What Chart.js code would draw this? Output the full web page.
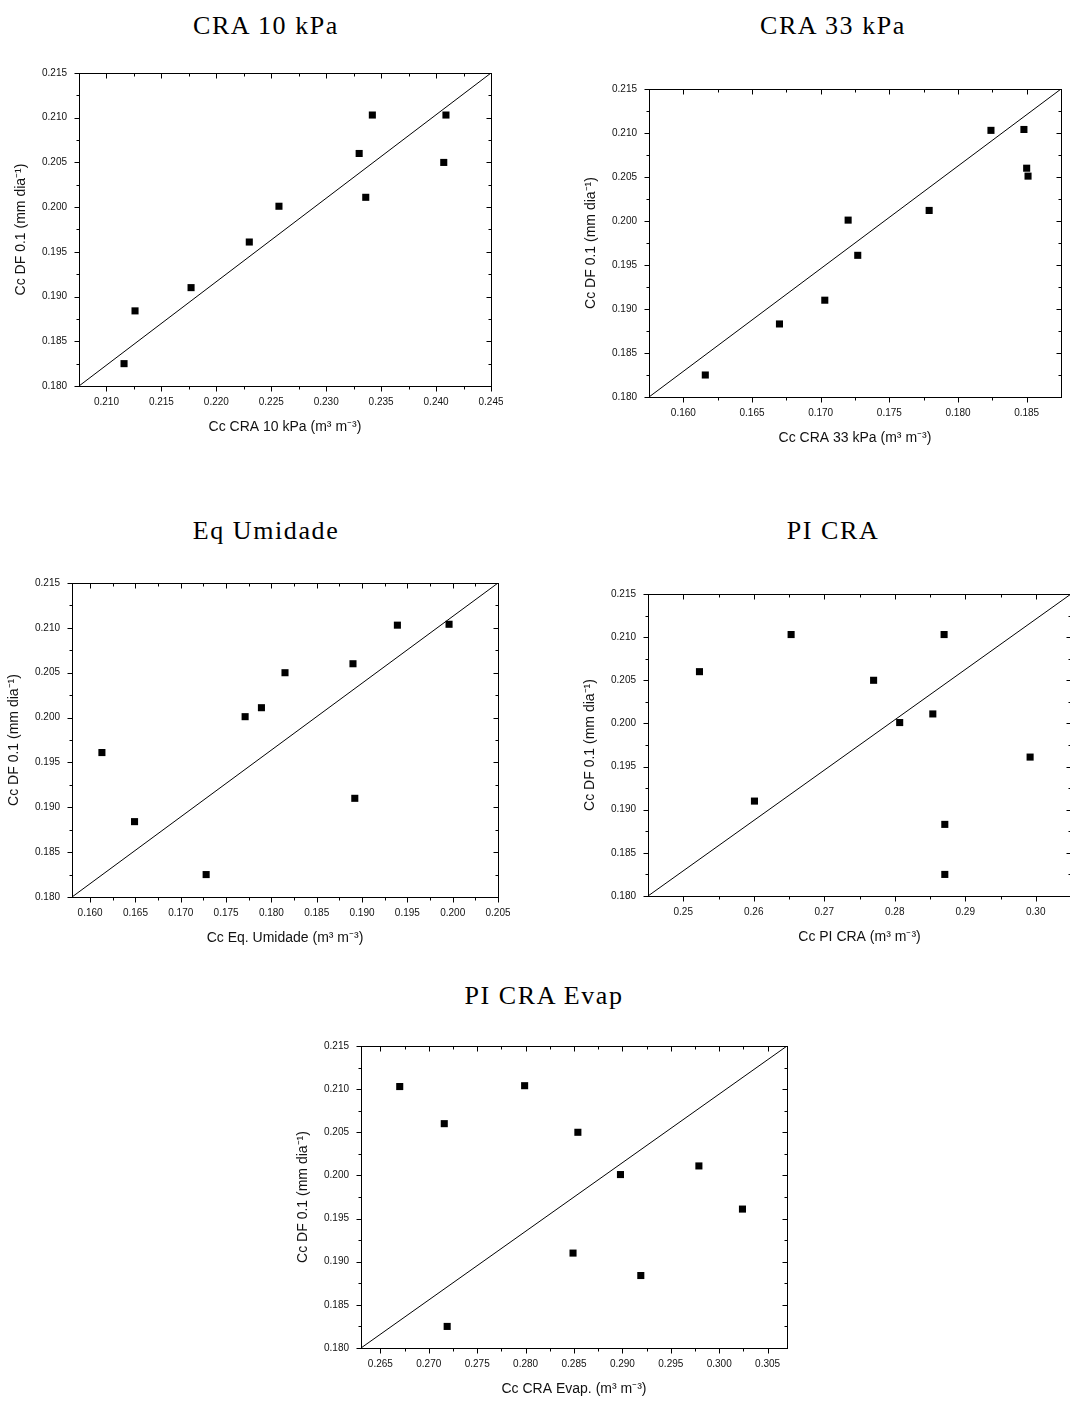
<!DOCTYPE html>
<html>
<head>
<meta charset="utf-8">
<script src="https://cdn.jsdelivr.net/npm/chart.js@4.4.1/dist/chart.umd.min.js"></script>
<style>
  html, body { margin: 0; padding: 0; background: #fff; overflow: hidden; }
  body { width: 1070px; height: 1401px; position: relative; }
  canvas { position: absolute; }
  .ttl {
    position: absolute; width: 400px; text-align: center;
    font: 26px "Liberation Serif", "Times New Roman", serif;
    line-height: 26px; letter-spacing: 1.6px; color: #000;
  }
</style>
</head>
<body>
<div class="ttl" style="left:66px;top:12.5px">CRA 10 kPa</div>
<div class="ttl" style="left:633px;top:12.5px">CRA 33 kPa</div>
<div class="ttl" style="left:66px;top:517.5px">Eq Umidade</div>
<div class="ttl" style="left:633px;top:517.5px">PI CRA</div>
<div class="ttl" style="left:344px;top:982.5px">PI CRA Evap</div>

<canvas id="c1"></canvas>
<canvas id="c2"></canvas>
<canvas id="c3"></canvas>
<canvas id="c4"></canvas>
<canvas id="c5"></canvas>

<script>
// y axis (Cc DF 0.1) shared by all panels
const yTicks = [0.180, 0.185, 0.190, 0.195, 0.200, 0.205, 0.210, 0.215];
const yTitle = 'Cc DF 0.1 (mm dia\u207B\u00B9)';

// CRA 10 kPa
const cra10X = [0.2116, 0.2126, 0.2177, 0.2230, 0.2257, 0.2330, 0.2342, 0.2336, 0.2407, 0.2409];
const cra10Y = [0.1825, 0.1884, 0.1910, 0.1961, 0.2001, 0.2060, 0.2103, 0.2011, 0.2050, 0.2103];
const cra10Ticks = [0.210, 0.215, 0.220, 0.225, 0.230, 0.235, 0.240, 0.245];

// CRA 33 kPa
const cra33X = [0.1616, 0.1670, 0.1703, 0.1727, 0.1720, 0.1779, 0.1824, 0.1848, 0.1850, 0.1851];
const cra33Y = [0.1825, 0.1883, 0.1910, 0.1961, 0.2001, 0.2012, 0.2103, 0.2104, 0.2060, 0.2051];
const cra33Ticks = [0.160, 0.165, 0.170, 0.175, 0.180, 0.185];

// Eq Umidade
const equmX = [0.1613, 0.1649, 0.1728, 0.1771, 0.1789, 0.1815, 0.1890, 0.1892, 0.1939, 0.1996];
const equmY = [0.1961, 0.1884, 0.1825, 0.2001, 0.2011, 0.2050, 0.2060, 0.1910, 0.2103, 0.2104];
const equmTicks = [0.160, 0.165, 0.170, 0.175, 0.180, 0.185, 0.190, 0.195, 0.200, 0.205];

// PI CRA
const picraX = [0.2523, 0.2601, 0.2653, 0.2770, 0.2807, 0.2854, 0.2870, 0.2871, 0.2871, 0.2992];
const picraY = [0.2060, 0.1910, 0.2103, 0.2050, 0.2001, 0.2011, 0.2103, 0.1883, 0.1825, 0.1961];
const picraTicks = [0.25, 0.26, 0.27, 0.28, 0.29, 0.30];

// PI CRA Evap
const evapX = [0.2670, 0.2716, 0.2719, 0.2799, 0.2849, 0.2854, 0.2898, 0.2919, 0.2979, 0.3024];
const evapY = [0.2103, 0.2060, 0.1825, 0.2104, 0.1910, 0.2050, 0.2001, 0.1884, 0.2011, 0.1961];
const evapTicks = [0.265, 0.270, 0.275, 0.280, 0.285, 0.290, 0.295, 0.300, 0.305];

const tickFont = { family: '"Liberation Sans", Arial, sans-serif', size: 10 };
const titleFont = { family: '"Liberation Sans", Arial, sans-serif', size: 14 };

// frame on all four sides; ticks outward on left/bottom, inward on top/right
const frameTicks = {
  id: 'frameTicks',
  afterDraw(chart) {
    const { ctx, chartArea: a, scales: { x, y } } = chart;
    const L = Math.round(a.left) + 0.5, R = Math.round(a.right) + 0.5;
    const T = Math.round(a.top) + 0.5, B = Math.round(a.bottom) + 0.5;
    ctx.save();
    ctx.strokeStyle = '#000';
    ctx.lineWidth = 1;
    ctx.strokeRect(L, T, R - L, B - T);

    const marks = scale => {
      const vals = scale.ticks.map(t => t.value);
      const step = vals[1] - vals[0];
      const out = vals.map(v => [v, 5]);
      for (let v = vals[0] - step / 2; v <= scale.max + 1e-9; v += step) {
        if (v > scale.min + 1e-9 && v < scale.max - 1e-9) out.push([v, 3]);
      }
      return out;
    };

    ctx.beginPath();
    marks(x).forEach(([v, len]) => {
      const px = Math.round(x.getPixelForValue(v)) + 0.5;
      ctx.moveTo(px, B); ctx.lineTo(px, B + len);
      ctx.moveTo(px, T); ctx.lineTo(px, T + len);
    });
    marks(y).forEach(([v, len]) => {
      const py = Math.round(y.getPixelForValue(v)) + 0.5;
      ctx.moveTo(L, py); ctx.lineTo(L - len, py);
      ctx.moveTo(R, py); ctx.lineTo(R - len, py);
    });
    ctx.stroke();
    ctx.restore();
  }
};

function makePanel(id, box, xs, ys, xMin, xMax, xTicks, dec, xTitle) {
  const canvas = document.getElementById(id);
  canvas.width = box.w + 82;
  canvas.height = box.h + 66;
  canvas.style.left = (box.left - 70) + 'px';
  canvas.style.top = (box.top - 12) + 'px';

  const points = xs.map((v, i) => ({ x: v, y: ys[i] }));
  // corner-to-corner reference line
  const diag = [{ x: xMin, y: yTicks[0] }, { x: xMax, y: yTicks[yTicks.length - 1] }];

  return new Chart(canvas, {
    type: 'scatter',
    data: {
      datasets: [
        { data: diag, showLine: true, borderColor: '#000', borderWidth: 1, pointRadius: 0, fill: false },
        { data: points, pointStyle: 'rect', pointRadius: 5, backgroundColor: '#000', borderWidth: 0 },
      ],
    },
    options: {
      responsive: false,
      animation: false,
      devicePixelRatio: 1,
      layout: { padding: { top: 12, right: 12, left: 0, bottom: 0 } },
      plugins: { legend: { display: false }, tooltip: { enabled: false } },
      scales: {
        x: {
          type: 'linear', min: xMin, max: xMax,
          afterBuildTicks: s => { s.ticks = xTicks.map(v => ({ value: v })); },
          afterFit: s => { s.height = 54; s.paddingLeft = 0; s.paddingRight = 0; },
          grid: { display: false, drawTicks: false },
          border: { display: false },
          ticks: { padding: 10, font: tickFont, color: '#111', autoSkip: false, maxRotation: 0,
                   callback: v => Number(v).toFixed(dec) },
          title: { display: true, text: xTitle, font: titleFont, color: '#111', padding: 4 },
        },
        y: {
          type: 'linear', min: yTicks[0], max: yTicks[yTicks.length - 1],
          afterBuildTicks: s => { s.ticks = yTicks.map(v => ({ value: v })); },
          afterFit: s => { s.width = 70; s.paddingTop = 0; s.paddingBottom = 0; },
          grid: { display: false, drawTicks: false },
          border: { display: false },
          ticks: { padding: 12, font: tickFont, color: '#111', autoSkip: false,
                   callback: v => Number(v).toFixed(3) },
          title: { display: true, text: yTitle, font: titleFont, color: '#111', padding: 4 },
        },
      },
    },
    plugins: [frameTicks],
  });
}

makePanel('c1', { left: 79, top: 73, w: 412, h: 313 }, cra10X, cra10Y,
  0.2075, 0.245, cra10Ticks, 3, 'Cc CRA 10 kPa (m\u00B3 m\u207B\u00B3)');
makePanel('c2', { left: 649, top: 89, w: 412, h: 308 }, cra33X, cra33Y,
  0.1575, 0.1875, cra33Ticks, 3, 'Cc CRA 33 kPa (m\u00B3 m\u207B\u00B3)');
makePanel('c3', { left: 72, top: 583, w: 426, h: 314 }, equmX, equmY,
  0.158, 0.205, equmTicks, 3, 'Cc Eq. Umidade (m\u00B3 m\u207B\u00B3)');
makePanel('c4', { left: 648, top: 594, w: 423, h: 302 }, picraX, picraY,
  0.245, 0.305, picraTicks, 2, 'Cc PI CRA (m\u00B3 m\u207B\u00B3)');
makePanel('c5', { left: 361, top: 1046, w: 426, h: 302 }, evapX, evapY,
  0.263, 0.307, evapTicks, 3, 'Cc CRA Evap. (m\u00B3 m\u207B\u00B3)');
</script>
</body>
</html>
